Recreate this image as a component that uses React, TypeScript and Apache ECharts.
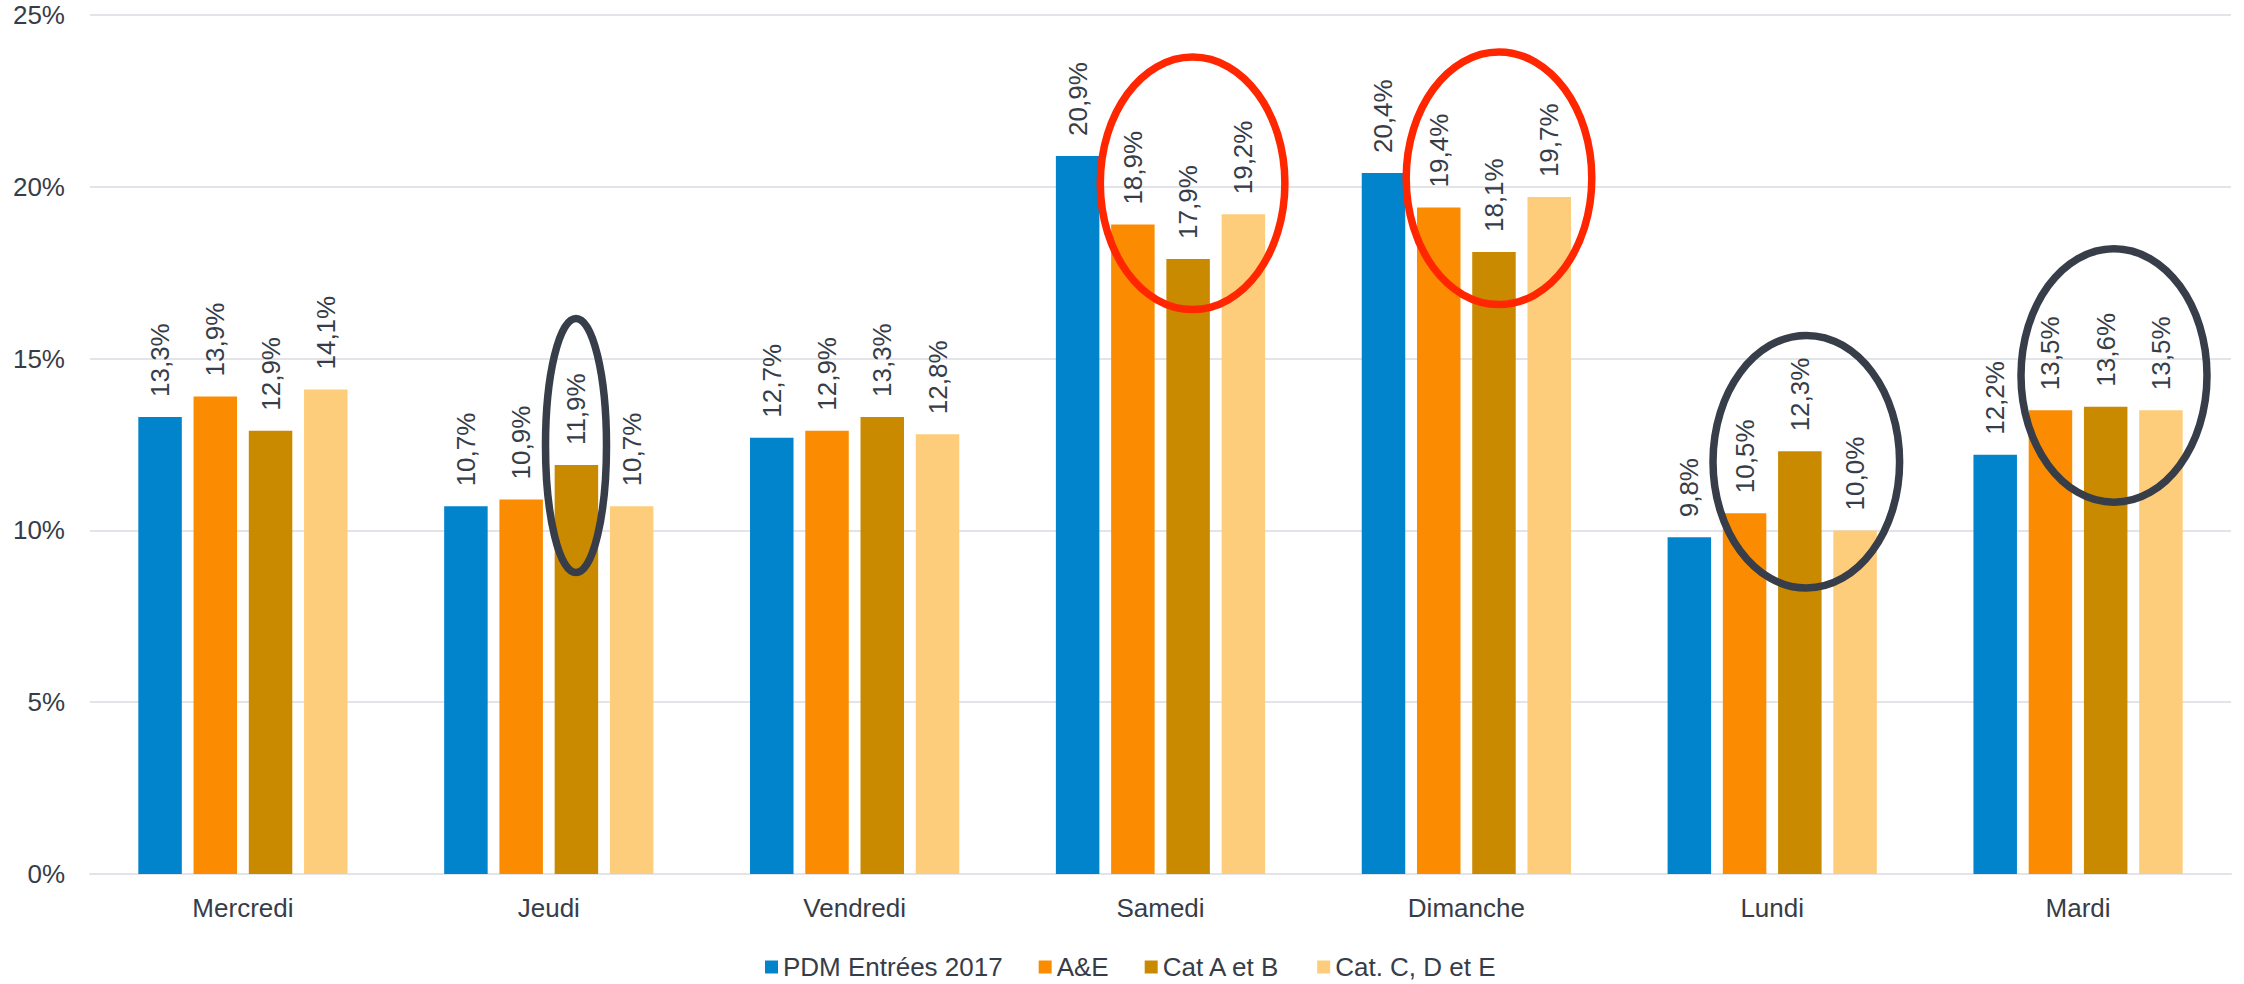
import React, { useEffect, useRef } from "react";
import * as echarts from "echarts";

const categories = ["Mercredi", "Jeudi", "Vendredi", "Samedi", "Dimanche", "Lundi", "Mardi"];
const seriesNames = ["PDM Entrées 2017", "A&E", "Cat A et B", "Cat. C, D et E"];
const pdmEntrees = [13.3, 10.7, 12.7, 20.9, 20.4, 9.8, 12.2];
const aEtE = [13.9, 10.9, 12.9, 18.9, 19.4, 10.5, 13.5];
const catAB = [12.9, 11.9, 13.3, 17.9, 18.1, 12.3, 13.6];
const catCDE = [14.1, 10.7, 12.8, 19.2, 19.7, 10.0, 13.5];
const yTicks = [0, 5, 10, 15, 20, 25];

const colors = ["#0284CD", "#FB8C02", "#CA8A00", "#FECD7B"];
const textColor = "#363D48";
const gridColor = "#E2E4EA";
const font = "'Liberation Sans', Arial, Helvetica, sans-serif";

// annotation ellipses (cx, cy, rx, ry, color)
const annotations = [
  { cx: 576, cy: 445.5, rx: 30.5, ry: 127, color: "#373E49" },
  { cx: 1192.6, cy: 183.3, rx: 92.3, ry: 126.3, color: "#FF2600" },
  { cx: 1499, cy: 178.3, rx: 92.8, ry: 126.3, color: "#FF2600" },
  { cx: 1806.3, cy: 461.7, rx: 93.3, ry: 126.3, color: "#373E49" },
  { cx: 2114, cy: 375.5, rx: 93, ry: 126.8, color: "#373E49" },
];

export default function App() {
  const ref = useRef<HTMLDivElement>(null);
  useEffect(() => {
    if (!ref.current) return;
    const chart = echarts.init(ref.current, undefined, { renderer: "svg" });
    const data = [pdmEntrees, aEtE, catAB, catCDE];
    chart.setOption({
      animation: false,
      backgroundColor: "#ffffff",
      textStyle: { fontFamily: font },
      grid: { left: 90, right: 13, top: 15, bottom: 110, containLabel: false },
      legend: {
        left: 765,
        top: 954,
        padding: 0,
        itemWidth: 13,
        itemHeight: 13,
        itemGap: 36,
        icon: "rect",
        textStyle: { color: textColor, fontSize: 26, lineHeight: 26, fontFamily: font },
        data: seriesNames,
      },
      xAxis: {
        type: "category",
        data: categories,
        axisTick: { show: false },
        axisLine: { show: true, lineStyle: { color: gridColor, width: 2 } },
        axisLabel: { color: textColor, fontSize: 26, margin: 21, fontFamily: font },
      },
      yAxis: {
        type: "value",
        min: yTicks[0],
        max: yTicks[yTicks.length - 1],
        interval: 5,
        axisLine: { show: false },
        axisTick: { show: false },
        splitLine: { lineStyle: { color: gridColor, width: 2 } },
        axisLabel: { color: textColor, fontSize: 26, margin: 25, formatter: "{value}%", fontFamily: font },
      },
      series: seriesNames.map((name, i) => ({
        name,
        type: "bar",
        data: data[i],
        barWidth: 43.5,
        barGap: "27%",
        itemStyle: { color: colors[i] },
        label: {
          show: true,
          position: "top",
          rotate: 90,
          align: "left",
          verticalAlign: "middle",
          distance: 20,
          color: textColor,
          fontSize: 26,
          fontFamily: font,
          formatter: (p: any) => p.value.toFixed(1).replace(".", ",") + "%",
        },
      })),
      graphic: annotations.map((a) => ({
        type: "ellipse",
        shape: { cx: a.cx, cy: a.cy, rx: a.rx, ry: a.ry },
        style: { fill: "none", stroke: a.color, lineWidth: 7.5 },
        z: 100,
      })),
    });
    return () => chart.dispose();
  }, []);
  return (
    <div
      ref={ref}
      style={{ position: "fixed", left: 0, top: 0, width: 2244, height: 984, background: "#fff" }}
    />
  );
}
